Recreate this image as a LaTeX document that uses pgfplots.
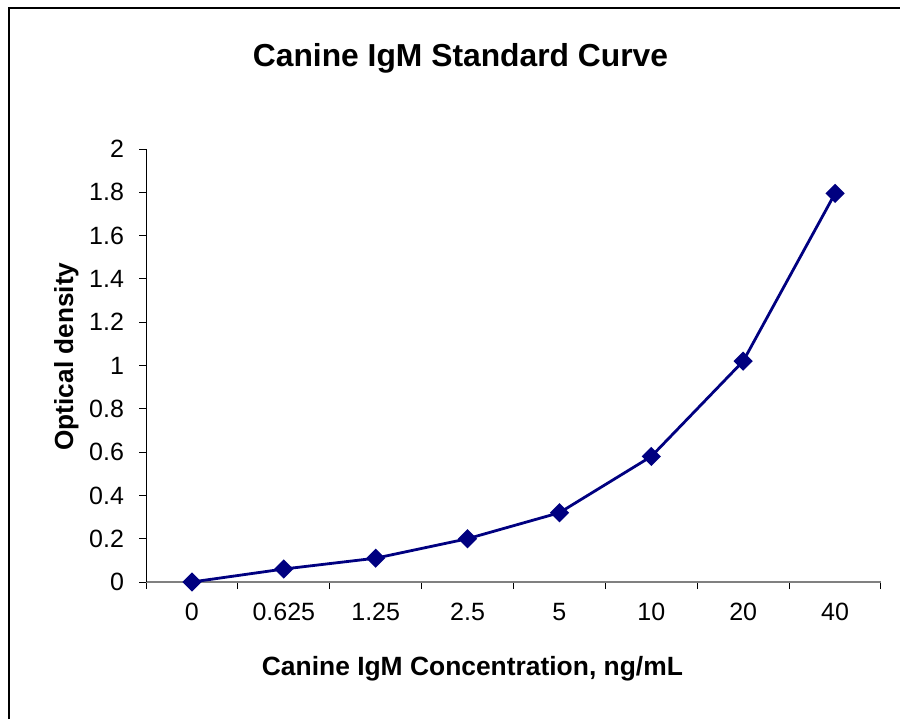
\documentclass[border=0pt]{standalone}
\usepackage{pgfplots}
\pgfplotsset{compat=1.18}
\usepackage{fontspec}
\setmainfont{Liberation Sans}
\definecolor{navyc}{RGB}{0,0,128}
\begin{document}
\begin{tikzpicture}
\path[use as bounding box] (0,0) rectangle (450pt,359.5pt);
\draw[line width=1.3pt,black] (4.5pt,0) -- (4.5pt,355.5pt) -- (450pt,355.5pt);
\begin{axis}[
  at={(73pt,68.5pt)}, anchor=south west,
  scale only axis, width=367.5pt, height=216.5pt,
  xmin=-0.5, xmax=7.5, ymin=0, ymax=2,
  axis x line*=bottom, axis y line*=left,
  x axis line style={draw=black!50, line width=1pt},
  y axis line style={draw=black, line width=0.5pt},
  xtick={0,1,2,3,4,5,6,7},
  xticklabels={0,0.625,1.25,2.5,5,10,20,40},
  minor xtick={-0.5,0.5,1.5,2.5,3.5,4.5,5.5,6.5,7.5},
  ytick={0,0.2,0.4,0.6,0.8,1,1.2,1.4,1.6,1.8,2},
  yticklabels={0,0.2,0.4,0.6,0.8,1,1.2,1.4,1.6,1.8,2},
  tick align=outside, major tick length=3.5pt, minor tick length=3.5pt,
  tick style={black, line width=0.5pt},
  major x tick style={draw=none},
  ticklabel style={font=\fontsize{12.5}{15}\selectfont},
  yticklabel style={xshift=-4pt},
  xticklabel style={yshift=-3.5pt},
  /pgf/number format/assume math mode=true,
  clip=false,
]
\addplot[color=navyc, line width=1.4pt, mark=square*, mark size=2.7pt, mark options={rotate=45, solid, fill=navyc}]
  coordinates {(0,0) (1,0.06) (2,0.11) (3,0.2) (4,0.32) (5,0.58) (6,1.02) (7,1.795)};
\end{axis}
\node[anchor=base, font=\fontsize{15.9}{19}\selectfont\bfseries] at (230.25pt,326pt) {Canine IgM Standard Curve};
\node[anchor=base, font=\fontsize{13.2}{16}\selectfont\bfseries] at (236.2pt,22pt) {Canine IgM Concentration, ng/mL};
\node[rotate=90, anchor=base, font=\fontsize{13.1}{16}\selectfont\bfseries] at (36.5pt,181.25pt) {Optical density};
\end{tikzpicture}
\end{document}
